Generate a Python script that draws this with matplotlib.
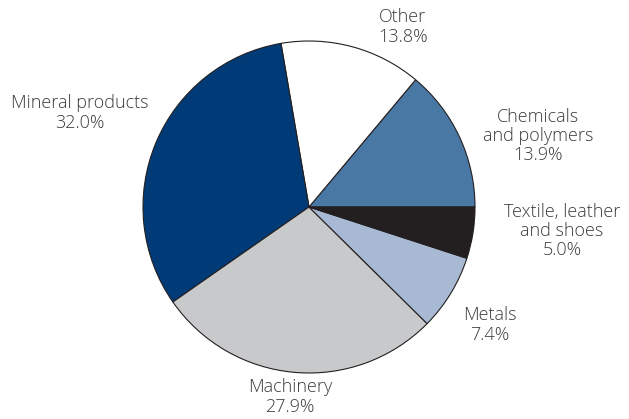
import matplotlib.pyplot as plt

categories = ["Chemicals\nand polymers", "Other", "Mineral products", "Machinery",
              "Metals", "Textile, leather\nand shoes"]
shares = [13.9, 13.8, 32.0, 27.9, 7.4, 5.0]
colors = ["#4a78a4", "#ffffff", "#003b78", "#c8c9cb", "#a7b9d3", "#231f20"]

# label anchor points (pixel space, y measured from the bottom)
label_pos = [(538, 283), (403, 392), (80, 306), (290, 22), (490, 94), (562, 188)]

fig = plt.figure(figsize=(6.29, 4.19), dpi=100)
ax = fig.add_axes([0, 0, 1, 1])

ax.pie(shares, colors=colors, startangle=0, counterclock=True,
       center=(309, 212), radius=166, frame=True,
       wedgeprops=dict(edgecolor='#231f20', linewidth=0.8))
ax.set_xlim(0, 629)
ax.set_ylim(0, 419)
ax.axis('off')

for name, val, (x, y) in zip(categories, shares, label_pos):
    ax.text(x, y, f"{name}\n{val:.1f}%", ha='center', va='center',
            fontsize=13, color='#3c3c3c', family='Open Sans',
            fontweight='light', linespacing=1.1)

fig.savefig("out.png", dpi=100)
